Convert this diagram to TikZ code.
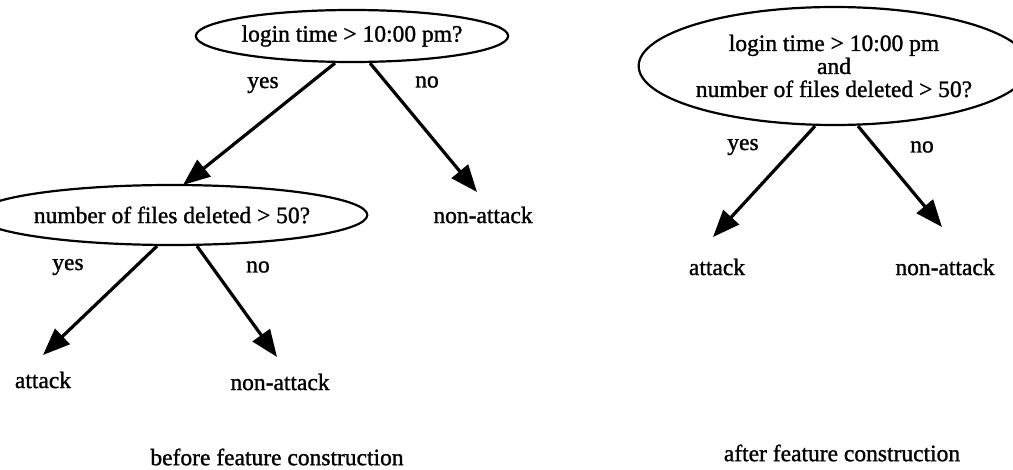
\documentclass[tikz,border=0pt]{standalone}
\usepackage{fontspec}
\setmainfont{Liberation Serif}[FakeBold=1.2]
\usetikzlibrary{shapes.geometric,arrows.meta,calc}
\begin{document}
\begin{tikzpicture}[x=1pt,y=-1pt,
  txt/.style={font=\fontsize{23.5}{25}\selectfont, inner sep=0pt, text=black},
  test/.style={draw, ellipse, line width=2.2pt, inner sep=0pt, align=center, font=\fontsize{23.5}{24}\selectfont},
  arr/.style={line width=3.2pt, -{Triangle[length=27pt,width=21pt]}}]
\useasboundingbox (0,0) rectangle (1013,470);
\fill[white] (0,0) rectangle (1013,470);
% left tree
\node[test, minimum width=280pt, minimum height=52pt] (e1) at (352,36) {login time > 10:00 pm?};
\node[test, minimum width=329pt, minimum height=60pt] (e2) at (172,215) {number of files deleted > 50?};
\node[txt] (l1) at (483,215) {non-attack};
\node[txt] (l2) at (43,380) {attack};
\node[txt] (l3) at (280,382) {non-attack};
\node[txt] (y1) at (263,85) {yes};
\node[txt] (n1) at (427,82) {no};
\node[txt] (y2) at (68,267) {yes};
\node[txt] (n2) at (258,267) {no};
\draw[arr] ($(e1.south)+(-17,0)$) -- ($(e2.center)+(11,-30)$);
\draw[arr] ($(e1.south)+(18,0)$) -- ($(l1.center)+(-6,-23)$);
\draw[arr] ($(e2.south)+(-15,0)$) -- ($(l2.center)+(0,-25)$);
\draw[arr] ($(e2.south)+(25,0)$) -- ($(l3.center)+(-3,-25)$);
% right tree
\node[test, minimum width=352pt, minimum height=118pt] (e3) at (834,66) {login time > 10:00 pm\\[-1pt]and\\[-1pt]number of files deleted > 50?};
\node[txt] (r1) at (717,267) {attack};
\node[txt] (r2) at (945,267) {non-attack};
\node[txt] (y3) at (743,147) {yes};
\node[txt] (n3) at (922,147) {no};
\draw[arr] ($(e3.south)+(-19,0)$) -- ($(r1.center)+(-4,-30)$);
\draw[arr] ($(e3.south)+(24,0)$) -- ($(r2.center)+(-3,-40)$);
% captions
\node[txt] (c1) at (277,457) {before feature construction};
\node[txt] (c2) at (842,453) {after feature construction};
\end{tikzpicture}
\end{document}
